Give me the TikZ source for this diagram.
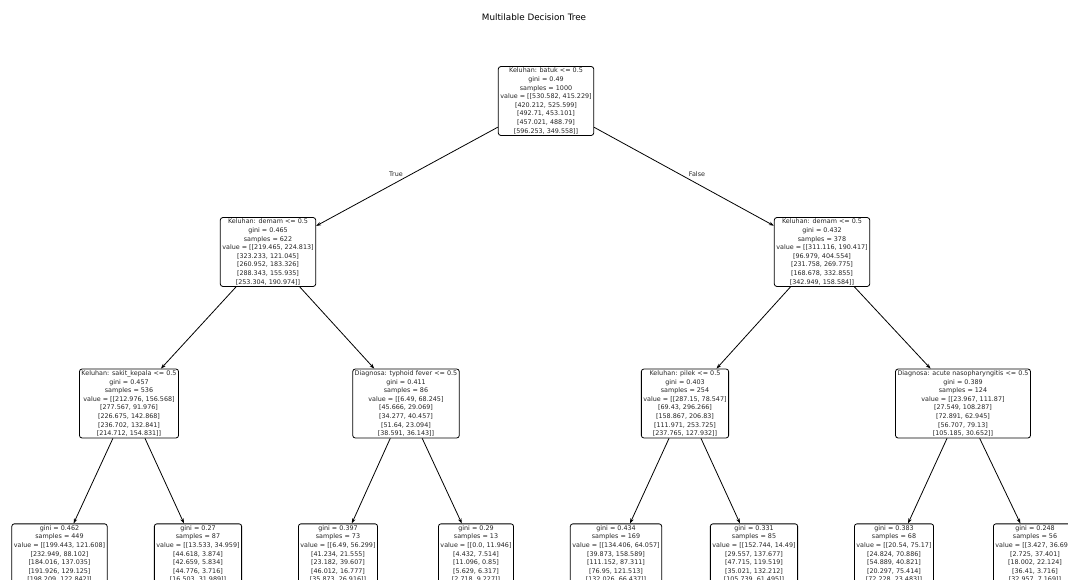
\documentclass[tikz,border=0pt]{standalone}
\usepackage{fontspec}
\setmainfont{DejaVu Sans}
\usetikzlibrary{arrows.meta}
\begin{document}
\begin{tikzpicture}[x=1pt,y=-1pt,
  tnode/.style={draw=black,line width=0.8pt,rounded corners=2.5pt,fill=white,align=center,
    inner xsep=2pt,inner ysep=1.5pt,font=\fontsize{6.4}{8.6}\selectfont,text=black!85},
  edge/.style={line width=0.8pt,-{Stealth[length=5pt,width=3.5pt]}},
  elabel/.style={font=\fontsize{6.4}{8}\selectfont,text=black!85}]
\useasboundingbox (0,0) rectangle (1068,580);
\clip (0,0) rectangle (1068,580);
\node[font=\fontsize{8.8}{10}\selectfont] (title) at (534,17) {Multilable Decision Tree};
\node[tnode] (root) at (546,101) {Keluhan: batuk <= 0.5\\gini = 0.49\\samples = 1000\\value = [[530.582, 415.229]\\{}[420.212, 525.599]\\{}[492.71, 453.101]\\{}[457.021, 488.79]\\{}[596.253, 349.558]]};
\node[tnode] (l) at (268,252) {Keluhan: demam <= 0.5\\gini = 0.465\\samples = 622\\value = [[219.465, 224.813]\\{}[323.233, 121.045]\\{}[260.952, 183.326]\\{}[288.343, 155.935]\\{}[253.304, 190.974]]};
\node[tnode] (r) at (822,252) {Keluhan: demam <= 0.5\\gini = 0.432\\samples = 378\\value = [[311.116, 190.417]\\{}[96.979, 404.554]\\{}[231.758, 269.775]\\{}[168.678, 332.855]\\{}[342.949, 158.584]]};
\node[tnode] (ll) at (129,403.5) {Keluhan: sakit\_kepala <= 0.5\\gini = 0.457\\samples = 536\\value = [[212.976, 156.568]\\{}[277.567, 91.976]\\{}[226.675, 142.868]\\{}[236.702, 132.841]\\{}[214.712, 154.831]]};
\node[tnode] (lr) at (406,403.5) {Diagnosa: typhoid fever <= 0.5\\gini = 0.411\\samples = 86\\value = [[6.49, 68.245]\\{}[45.666, 29.069]\\{}[34.277, 40.457]\\{}[51.64, 23.094]\\{}[38.591, 36.143]]};
\node[tnode] (rl) at (685,403.5) {Keluhan: pilek <= 0.5\\gini = 0.403\\samples = 254\\value = [[287.15, 78.547]\\{}[69.43, 296.266]\\{}[158.867, 206.83]\\{}[111.971, 253.725]\\{}[237.765, 127.932]]};
\node[tnode] (rr) at (963,403.5) {Diagnosa: acute nasopharyngitis <= 0.5\\gini = 0.389\\samples = 124\\value = [[23.967, 111.87]\\{}[27.549, 108.287]\\{}[72.891, 62.945]\\{}[56.707, 79.13]\\{}[105.185, 30.652]]};
\node[tnode] (lll) at (59.5,554) {gini = 0.462\\samples = 449\\value = [[199.443, 121.608]\\{}[232.949, 88.102]\\{}[184.016, 137.035]\\{}[191.926, 129.125]\\{}[198.209, 122.842]]};
\node[tnode] (llr) at (198,554) {gini = 0.27\\samples = 87\\value = [[13.533, 34.959]\\{}[44.618, 3.874]\\{}[42.659, 5.834]\\{}[44.776, 3.716]\\{}[16.503, 31.989]]};
\node[tnode] (lrl) at (338,554) {gini = 0.397\\samples = 73\\value = [[6.49, 56.299]\\{}[41.234, 21.555]\\{}[23.182, 39.607]\\{}[46.012, 16.777]\\{}[35.873, 26.916]]};
\node[tnode] (lrr) at (476,554) {gini = 0.29\\samples = 13\\value = [[0.0, 11.946]\\{}[4.432, 7.514]\\{}[11.096, 0.85]\\{}[5.629, 6.317]\\{}[2.718, 9.227]]};
\node[tnode] (rll) at (616,554) {gini = 0.434\\samples = 169\\value = [[134.406, 64.057]\\{}[39.873, 158.589]\\{}[111.152, 87.311]\\{}[76.95, 121.513]\\{}[132.026, 66.437]]};
\node[tnode] (rlr) at (754,554) {gini = 0.331\\samples = 85\\value = [[152.744, 14.49]\\{}[29.557, 137.677]\\{}[47.715, 119.519]\\{}[35.021, 132.212]\\{}[105.739, 61.495]]};
\node[tnode] (rrl) at (894,554) {gini = 0.383\\samples = 68\\value = [[20.54, 75.17]\\{}[24.824, 70.886]\\{}[54.889, 40.821]\\{}[20.297, 75.414]\\{}[72.228, 23.483]]};
\node[tnode] (rrr) at (1035,554) {gini = 0.248\\samples = 56\\value = [[3.427, 36.699]\\{}[2.725, 37.401]\\{}[18.002, 22.124]\\{}[36.41, 3.716]\\{}[32.957, 7.169]]};
\draw[edge] (root) -- (l);
\draw[edge] (root) -- (r);
\draw[edge] (l) -- (ll);
\draw[edge] (l) -- (lr);
\draw[edge] (r) -- (rl);
\draw[edge] (r) -- (rr);
\draw[edge] (ll) -- (lll);
\draw[edge] (ll) -- (llr);
\draw[edge] (lr) -- (lrl);
\draw[edge] (lr) -- (lrr);
\draw[edge] (rl) -- (rll);
\draw[edge] (rl) -- (rlr);
\draw[edge] (rr) -- (rrl);
\draw[edge] (rr) -- (rrr);
\node[elabel,fill=white,inner sep=0.5pt] (tlab) at (396,174) {True};
\node[elabel,fill=white,inner sep=0.5pt] (flab) at (697,174) {False};
\end{tikzpicture}
\end{document}
